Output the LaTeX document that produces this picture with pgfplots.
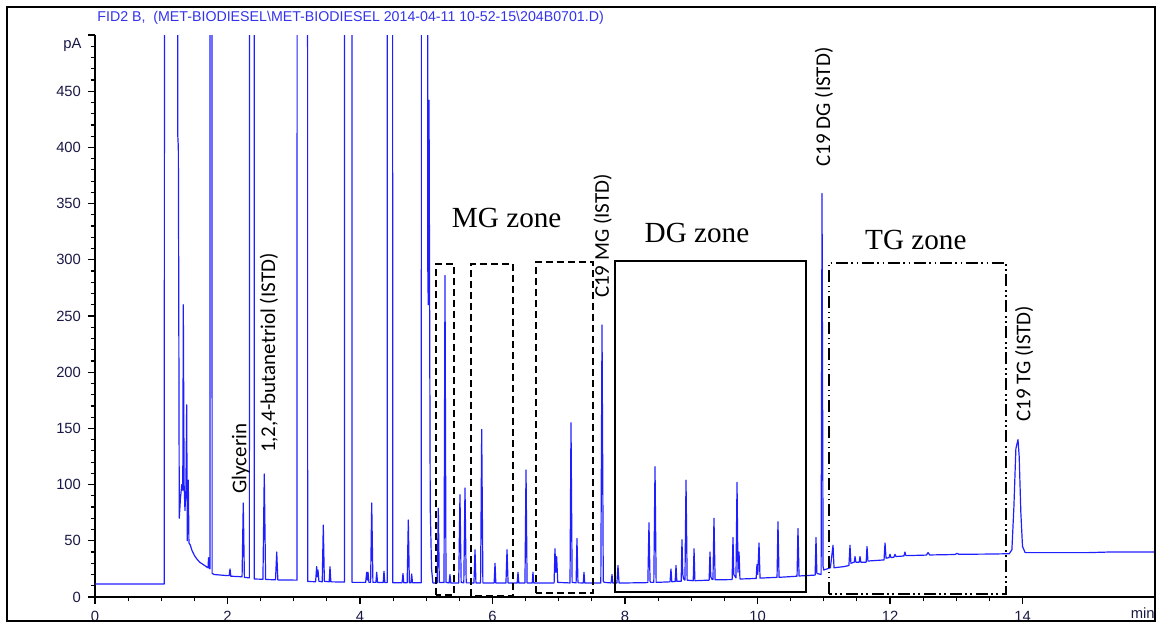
\documentclass[border=0pt]{standalone}
\usepackage{pgfplots}
\pgfplotsset{compat=1.18}
\usepackage{fontspec}
\setmainfont{Liberation Sans}
\newfontfamily\calfont{Carlito}
\newfontfamily\tmsfont{Liberation Serif}
\definecolor{trace}{RGB}{30,30,255}
\definecolor{tickc}{RGB}{25,25,70}
\definecolor{titlec}{RGB}{50,50,235}
\begin{document}
\begin{tikzpicture}
\begin{axis}[
  scale only axis,
  width=530bp, height=281bp,
  xmin=0, xmax=16, ymin=0, ymax=500,
  axis x line*=bottom, axis y line*=left,
  axis line style={line width=0.6bp, black, -},
  xtick={0,2,...,14}, minor x tick num=3,
  ytick={0,50,...,500},
  yticklabels={0,50,100,150,200,250,300,350,400,450,{}},
  minor y tick num=4,
  tick align=outside,
  major tick length=3.5bp, minor tick length=2.2bp,
  every tick/.style={line width=0.6bp, black},
  ticklabel style={font=\fontsize{7.4bp}{8bp}\selectfont, text=tickc},
  /pgf/number format/assume math mode=true,
  clip mode=individual,
]
\addplot[trace, line width=0.6bp, mark=none, line join=round] coordinates {
(0,11.6) (1.045,11.6) (1.065,3000) (1.235,3000) (1.25,410) (1.258,400) (1.264,275) (1.272,70)
(1.29,88) (1.31,100) (1.325,95) (1.333,260) (1.345,100) (1.358,77) (1.372,95) (1.384,171)
(1.393,50) (1.400,80) (1.408,104) (1.418,48) (1.44,46) (1.46,42) (1.50,37) (1.535,34)
(1.58,31) (1.63,29) (1.68,27) (1.706,26) (1.714,35) (1.722,26) (1.735,25) (1.751,6000)
(1.768,21) (1.80,20) (2.0,19) (2.025,19) (2.038,25) (2.05,18.5) (2.22,18) (2.238,83.6)
(2.255,17.5) (2.33,17) (2.37,8000) (2.405,16) (2.535,15.8) (2.555,109.5) (2.575,15.6)
(2.725,15.3) (2.743,40) (2.76,15.2) (3.05,15) (3.057,5000) (3.20,5000) (3.21,13.8)
(3.33,13.6) (3.346,27) (3.356,18) (3.366,24) (3.38,14) (3.43,13.5) (3.446,64) (3.462,14)
(3.535,13.5) (3.547,27) (3.56,13.5) (3.765,13.3) (3.79,5000) (3.86,5000) (3.88,13)
(4.085,13) (4.101,22) (4.111,15) (4.121,22) (4.135,13) (4.16,13) (4.177,83.6) (4.195,13)
(4.24,13) (4.252,22) (4.265,13) (4.35,12.8) (4.362,23) (4.375,12.8) (4.41,12.8)
(4.425,5000) (4.465,5000) (4.495,12.7) (4.635,12.7) (4.649,21) (4.66,12.7) (4.712,12.7)
(4.729,68.5) (4.745,12.7) (4.768,12.6) (4.780,20.5) (4.792,12.6) (4.925,12.6) (4.943,5000)
(5.012,5000) (5.022,300) (5.030,260) (5.042,442) (5.06,80) (5.08,25) (5.10,12.5)
(5.165,12.5) (5.182,79) (5.197,13) (5.268,12.8) (5.283,286) (5.298,13) (5.345,12.5)
(5.358,20) (5.37,12.5) (5.49,12.5) (5.509,91) (5.527,13) (5.567,12.6) (5.585,97)
(5.603,12.6) (5.72,12.5) (5.736,42) (5.75,12.5) (5.82,12.5) (5.837,149) (5.855,12.5)
(6.025,12.5) (6.038,30) (6.05,12.5) (6.203,12.5) (6.219,42) (6.235,12.5) (6.373,12.5)
(6.385,22) (6.397,12.5) (6.49,12.5) (6.506,113) (6.522,12.5) (6.60,12.5) (6.611,22)
(6.622,12.5) (6.93,12.5) (6.943,43) (6.955,22) (6.968,36) (6.985,13) (7.17,12.5)
(7.185,155) (7.202,13) (7.262,12.6) (7.275,52) (7.29,12.6) (7.37,12.5) (7.381,22)
(7.392,12.5) (7.635,12.5) (7.653,242) (7.672,14) (7.69,13) (7.79,12.5) (7.804,20)
(7.815,12.5) (7.878,12.5) (7.894,28) (7.91,12.4) (8.345,12.8) (8.362,66) (8.378,14)
(8.39,13) (8.435,13) (8.453,116) (8.47,13) (8.68,13.5) (8.694,25) (8.706,13.6)
(8.757,13.8) (8.770,28) (8.782,14) (8.848,14) (8.860,51) (8.872,20) (8.885,16)
(8.905,15) (8.921,104) (8.938,15) (9.03,14.5) (9.042,43) (9.055,14.5) (9.27,15)
(9.283,40) (9.295,18) (9.31,16) (9.328,15.5) (9.343,70) (9.36,15.3) (9.617,15.5)
(9.630,53) (9.642,20) (9.675,17) (9.691,102) (9.705,22) (9.721,40) (9.735,16)
(9.98,16.5) (9.992,29) (10.004,20) (10.023,48) (10.038,16.8) (10.295,17.5) (10.309,67)
(10.325,17.5) (10.597,18.5) (10.611,61) (10.627,18.7) (10.87,19.5) (10.883,53)
(10.896,21) (10.96,20) (10.974,359) (10.99,27) (11.0,24) (11.10,26) (11.14,46)
(11.155,26) (11.30,27) (11.38,28) (11.396,46) (11.41,30) (11.46,31) (11.472,36)
(11.485,31) (11.535,31) (11.547,36) (11.56,31) (11.64,31) (11.653,45) (11.667,32)
(11.91,33) (11.925,48) (11.94,34.5) (11.985,35) (12.0,38) (12.015,35) (12.06,35.5)
(12.075,38) (12.09,36) (12.21,36.5) (12.226,40) (12.24,36.8) (12.55,37.3) (12.574,39.5)
(12.60,37.4) (12.98,37.8) (13.011,38.8) (13.04,38) (13.5,38.2) (13.80,38.5) (13.84,42)
(13.87,80) (13.90,132) (13.932,140) (13.95,125) (13.975,75) (14.0,45) (14.04,39.5)
(14.5,39.5) (15.0,39.5) (15.3,40) (16,40)
};
% zone boxes
\draw[black, line width=1bp, dash pattern=on 3.5bp off 2bp] (axis cs:5.147,1.8) rectangle (axis cs:5.419,296.3);
\draw[black, line width=1bp, dash pattern=on 3.5bp off 2bp] (axis cs:5.675,1) rectangle (axis cs:6.309,296.3);
\draw[black, line width=1bp, dash pattern=on 3.5bp off 2bp] (axis cs:6.657,3.3) rectangle (axis cs:7.517,297.8);
\draw[black, line width=0.9bp] (axis cs:7.849,4.2) rectangle (axis cs:10.732,299);
\draw[black, line width=0.9bp, dash pattern=on 6bp off 1.8bp on 0.8bp off 1.8bp on 0.8bp off 1.8bp] (axis cs:11.079,2.7) rectangle (axis cs:13.751,297.4);
% zone labels
\node[font=\tmsfont\fontsize{14.6bp}{16bp}\selectfont, inner sep=0] at (axis cs:6.214,337.4) {MG zone};
\node[font=\tmsfont\fontsize{14.6bp}{16bp}\selectfont, inner sep=0] at (axis cs:9.087,324.3) {DG zone};
\node[font=\tmsfont\fontsize{14.6bp}{16bp}\selectfont, inner sep=0] at (axis cs:12.39,318) {TG zone};
% peak labels
\begin{scope}[every node/.style={rotate=90, anchor=west, inner sep=0, font=\calfont\fontsize{10.5bp}{12bp}\selectfont}]
\node at (axis cs:2.199,91.6) {Glycerin};
\node at (axis cs:2.626,127.8) {1,2,4-butanetriol (ISTD)};
\node at (axis cs:7.663,265.7) {C19 MG (ISTD)};
\node at (axis cs:11.004,382.8) {C19 DG (ISTD)};
\node at (axis cs:14.023,156) {C19 TG (ISTD)};
\end{scope}
% instrument texts
\node[anchor=west, inner sep=0, text=titlec, font=\fontsize{7.1bp}{8bp}\selectfont] at ([shift={(1bp,8.8bp)}]rel axis cs:0,1) {FID2 B,\ \ (MET-BIODIESEL\textbackslash MET-BIODIESEL 2014-04-11 10-52-15\textbackslash 204B0701.D)};
\node[anchor=east, inner sep=0, text=tickc, font=\fontsize{7.4bp}{8bp}\selectfont] at ([xshift=-6.5bp]axis cs:0,491) {pA};
\node[anchor=north east, inner sep=0, text=tickc, font=\fontsize{7.4bp}{8bp}\selectfont] at ([yshift=-5bp]axis cs:16,0) {min};
% outer frame
\draw[black, line width=0.6bp] ([shift={(-44bp,-12bp)}]rel axis cs:0,0) rectangle ([shift={(0bp,14bp)}]rel axis cs:1,1);
\coordinate (A) at (rel axis cs:0,0);
\coordinate (B) at (rel axis cs:1,1);
\end{axis}
\useasboundingbox ([shift={(-47.5bp,-14.5bp)}]A) rectangle ([shift={(4.5bp,17.5bp)}]B);
\end{tikzpicture}
\end{document}
